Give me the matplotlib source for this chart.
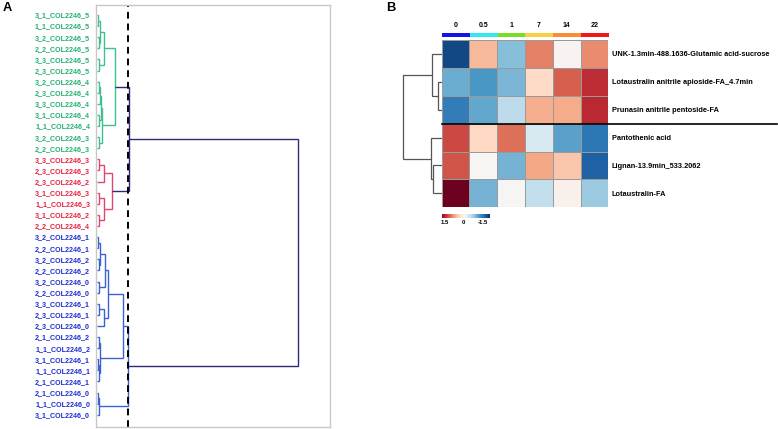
import matplotlib
matplotlib.use('Agg')
import matplotlib.pyplot as plt
import numpy as np
from matplotlib.colors import Normalize
import matplotlib.transforms as mtransforms

plt.rcParams['font.family'] = ['Liberation Sans', 'DejaVu Sans']

# ---------------- data ----------------
sample_labels = [
    "3_1_COL2246_5", "1_1_COL2246_5", "3_2_COL2246_5", "2_2_COL2246_5", "3_3_COL2246_5",
    "2_3_COL2246_5", "3_2_COL2246_4", "2_3_COL2246_4", "3_3_COL2246_4", "3_1_COL2246_4",
    "1_1_COL2246_4", "3_2_COL2246_3", "2_2_COL2246_3",
    "3_3_COL2246_3", "2_3_COL2246_3", "2_3_COL2246_2", "3_1_COL2246_3", "1_1_COL2246_3",
    "3_1_COL2246_2", "2_2_COL2246_4",
    "3_2_COL2246_1", "2_2_COL2246_1", "3_2_COL2246_2", "2_2_COL2246_2", "3_2_COL2246_0",
    "2_2_COL2246_0", "3_3_COL2246_1", "2_3_COL2246_1", "2_3_COL2246_0", "2_1_COL2246_2",
    "1_1_COL2246_2", "3_1_COL2246_1", "1_1_COL2246_1", "2_1_COL2246_1", "2_1_COL2246_0",
    "1_1_COL2246_0", "3_1_COL2246_0",
]
sample_cluster = ["g"] * 13 + ["r"] * 7 + ["b"] * 17

# dendrogram merges: (left, right, height, cluster); leaves are label indices
g1 = ((0, 1, 1.0, "g"), (2, 3, 1.5, "g"), 2.5, "g")
g2 = (g1, (4, 5, 1.5, "g"), 6.7, "g")
g3 = (((6, 7, 1.5, "g"), 8, 2.5, "g"), (9, 10, 1.5, "g"), 3.5, "g")
g4 = (g3, (11, 12, 1.5, "g"), 5.0, "g")
green_tree = (g2, g4, 17.7, "g")

r1 = ((13, 14, 1.5, "r"), 15, 6.7, "r")
r2 = ((16, 17, 1.5, "r"), (18, 19, 2.0, "r"), 6.7, "r")
red_tree = (r1, r2, 15.0, "r")

b3 = ((20, 21, 1.0, "b"), (22, 23, 1.5, "b"), 3.0, "b")
b5 = (b3, (24, 25, 1.5, "b"), 7.7, "b")
b6 = ((26, 27, 1.5, "b"), 28, 6.7, "b")
bA = (b5, b6, 11.0, "b")
b7 = ((29, 30, 1.5, "b"), ((31, 32, 1.0, "b"), 33, 2.0, "b"), 3.3, "b")
b8 = (bA, b7, 26.0, "b")
b9 = ((34, 35, 1.0, "b"), 36, 2.3, "b")
blue_tree = (b8, b9, 30.5, "b")

sample_tree = ((green_tree, red_tree, 31.5, "n"), blue_tree, 201.0, "n")
cut_height = 31.0

time_points = ["0", "0.5", "1", "7", "14", "22"]
time_colors = ["#1414e6", "#33e8f5", "#78dc28", "#f8d044", "#f88c38", "#f21818"]
metabolites = [
    "UNK-1.3min-488.1636-Glutamic acid-sucrose",
    "Lotaustralin anitrile apioside-FA_4.7min",
    "Prunasin anitrile pentoside-FA",
    "Pantothenic acid",
    "Lignan-13.9min_533.2062",
    "Lotaustralin-FA",
]
zscores = np.array([
    [-1.80, 0.65, -0.85, 1.00, 0.05, 0.95],
    [-1.00, -1.16, -0.92, 0.40, 1.20, 1.48],
    [-1.40, -1.04, -0.52, 0.72, 0.74, 1.50],
    [1.32, 0.42, 1.10, -0.32, -1.08, -1.44],
    [1.25, 0.02, -0.94, 0.78, 0.55, -1.64],
    [1.96, -0.95, 0.02, -0.50, 0.10, -0.75],
])
row_tree = ((0, (1, 2, 3.4), 9.4), (3, (4, 5, 8.4), 11.2), 38.4)
legend_ticks = [1.5, 0, -1.5]
legend_range = [1.76, -2.0]

# ---------------- figure ----------------
W, H = 778, 429
fig = plt.figure(figsize=(W / 100, H / 100), dpi=100)


def px_axes(x0, y0, x1, y1):
    return fig.add_axes([x0 / W, 1 - y1 / H, (x1 - x0) / W, (y1 - y0) / H])


line_cols = {"g": "#40c08e", "r": "#e0466e", "b": "#3a62d4", "n": "#2c2c78"}
label_cols = {"g": "#22b070", "r": "#e6223e", "b": "#1e2ed0"}


def draw_tree(ax, node, color_map=None, color=None, lw=1.0):
    if not isinstance(node, tuple):
        return float(node), 0.0
    if len(node) == 4:
        left, right, h, key = node
        c = color_map[key]
    else:
        left, right, h = node
        c = color
    yl, hl = draw_tree(ax, left, color_map, color, lw)
    yr, hr = draw_tree(ax, right, color_map, color, lw)
    ax.plot([hl, h, h, hr], [yl, yl, yr, yr], color=c, lw=lw,
            solid_capstyle='butt', solid_joinstyle='miter')
    return (yl + yr) / 2.0, h


# ---- Panel A ----
axA = px_axes(96, 5, 330, 427)
draw_tree(axA, sample_tree, color_map=line_cols, lw=1.0)
axA.axvline(cut_height, color='black', lw=1.4, ls=(0, (3.5, 2.5)))
axA.set_xlim(-1, 233)
axA.set_ylim(37.1, -0.9)
axA.set_xticks([])
axA.set_yticks(range(len(sample_labels)))
axA.set_yticklabels(sample_labels, fontsize=5.1, fontweight='bold')
for t, k in zip(axA.get_yticklabels(), sample_cluster):
    t.set_color(label_cols[k])
axA.tick_params(axis='y', length=0, pad=4.2)
for s in axA.spines.values():
    s.set_color('#c8c8c8')
    s.set_linewidth(1.0)

fig.text(2.5 / W, 1 - 8 / H, "A", fontsize=9.3, fontweight='bold', va='center', ha='left')
fig.text(386 / W, 1 - 8 / H, "B", fontsize=9.3, fontweight='bold', va='center', ha='left')

# ---- Panel B ----
hx0, hx1, hy0, hy1 = 441.7, 608.3, 40, 207.3
norm = Normalize(vmin=-2.0, vmax=2.0)
cmap = plt.get_cmap('RdBu_r')

axH = px_axes(hx0, hy0, hx1, hy1)
axH.pcolormesh(np.arange(len(time_points) + 1) - 0.5, np.arange(len(metabolites) + 1) - 0.5,
               zscores, cmap=cmap, norm=norm, edgecolors='#9a9a9a', linewidth=0.6)
axH.set_xlim(-0.5, len(time_points) - 0.5)
axH.set_ylim(len(metabolites) - 0.5, -0.5)
axH.set_xticks([])
axH.yaxis.tick_right()
axH.set_yticks(range(len(metabolites)))
axH.set_yticklabels(metabolites, fontsize=5.35, fontweight='bold')
axH.tick_params(axis='y', length=0, pad=2.5)
for s in axH.spines.values():
    s.set_visible(False)
trans = mtransforms.blended_transform_factory(axH.transAxes, axH.transData)
axH.plot([0, (777 - hx0) / (hx1 - hx0)], [2.5, 2.5], color='black', lw=1.2,
         transform=trans, clip_on=False)

# row dendrogram
axD = px_axes(400, hy0, hx0, hy1)
draw_tree(axD, row_tree, color='#555555', lw=0.9)
axD.set_xlim(hx0 - 400, 0)
axD.set_ylim(len(metabolites) - 0.5, -0.5)
axD.axis('off')

# annotation strip
axS = px_axes(hx0, 32.7, hx1, 37.3)
axS.imshow([[matplotlib.colors.to_rgb(c) for c in time_colors]], aspect='auto',
           extent=(-0.5, len(time_points) - 0.5, 0.5, -0.5))
axS.set_xlim(-0.5, len(time_points) - 0.5)
axS.set_yticks([])
axS.xaxis.tick_top()
axS.set_xticks(range(len(time_points)))
axS.set_xticklabels(time_points, fontsize=5.0, fontweight='bold')
axS.tick_params(axis='x', length=0, pad=2.5)
for s in axS.spines.values():
    s.set_visible(False)

# colour legend
axC = px_axes(441.7, 214, 489, 218)
vals = np.linspace(legend_range[0], legend_range[1], 200)
axC.imshow(vals[None, :], cmap=cmap, norm=norm, aspect='auto',
           extent=(legend_range[0], legend_range[1], 0.5, -0.5))
axC.set_xlim(legend_range[0], legend_range[1])
axC.set_yticks([])
axC.set_xticks(legend_ticks)
axC.set_xticklabels(["1.5", "0", "-1.5"], fontsize=4.3, fontweight='bold')
axC.tick_params(axis='x', length=0, pad=1.5)
for s in axC.spines.values():
    s.set_visible(False)

fig.savefig("out.png", dpi=100)
